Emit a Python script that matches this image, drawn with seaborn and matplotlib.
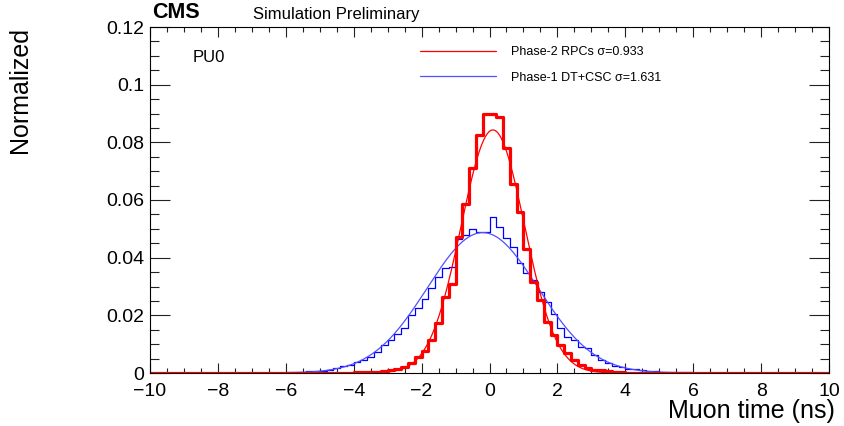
import numpy as np
import pandas as pd
import matplotlib
matplotlib.use("Agg")
import matplotlib.pyplot as plt
import seaborn as sns
from matplotlib.ticker import MultipleLocator, FixedLocator, FixedFormatter

# ---------------- data ----------------
x_min, x_max, bin_width = -10.0, 10.0, 0.2

# Phase-2 RPCs (red), 0.2 ns bins, bins centred -3.9 ... 3.9 are non-zero
rpc_core = [0.0002, 0.0003, 0.0004, 0.0005, 0.0007, 0.0010, 0.0013, 0.0022,
            0.0034, 0.0057, 0.0075, 0.0114, 0.0172, 0.0265, 0.0310, 0.0470,
            0.0585, 0.0712, 0.0826, 0.0897, 0.0897, 0.0889, 0.0780, 0.0656,
            0.0557, 0.0429, 0.0317, 0.0253, 0.0178, 0.0132, 0.0097, 0.0068,
            0.0045, 0.0028, 0.0016, 0.0010, 0.0012, 0.0008, 0.0005, 0.0003]
rpc_values = [0.0] * 30 + rpc_core + [0.0] * 30

# Phase-1 DT+CSC (blue), bins centred -5.9 ... 5.9 are non-zero
dt_core = [0.0003, 0.0004, 0.0005, 0.0006, 0.0007, 0.0008, 0.0011, 0.0016,
           0.0024, 0.0028, 0.0038, 0.0045, 0.0057, 0.0074, 0.0097, 0.0115,
           0.0135, 0.0155, 0.0201, 0.0224, 0.0258, 0.0294, 0.0334, 0.0363,
           0.0369, 0.0465, 0.0479, 0.0498, 0.0488, 0.0488, 0.0542, 0.0507,
           0.0469, 0.0438, 0.0380, 0.0348, 0.0323, 0.0282, 0.0247, 0.0205,
           0.0156, 0.0125, 0.0115, 0.0091, 0.0088, 0.0062, 0.0045, 0.0035,
           0.0026, 0.0022, 0.0015, 0.0013, 0.0009, 0.0007, 0.0006, 0.0005,
           0.0004, 0.0003, 0.0002, 0.0002]
dt_values = [0.0] * 20 + dt_core + [0.0] * 20

# Gaussian fit parameters (amplitude, mean, sigma)
rpc_fit = (0.0843, 0.10, 0.933)
dt_fit = (0.0487, -0.20, 1.631)

rpc_label = "Phase-2 RPCs \u03c3=0.933"
dt_label = "Phase-1 DT+CSC \u03c3=1.631"

x_ticks = [-10, -8, -6, -4, -2, 0, 2, 4, 6, 8, 10]
y_ticks = [0, 0.02, 0.04, 0.06, 0.08, 0.10, 0.12]
y_tick_labels = ["0", "0.02", "0.04", "0.06", "0.08", "0.1", "0.12"]

# ---------------- plot ----------------
sns.set_style("ticks")
plt.rcParams['font.family'] = ['Liberation Sans', 'DejaVu Sans']
plt.rcParams['text.color'] = 'black'
plt.rcParams['xtick.labelcolor'] = 'black'
plt.rcParams['ytick.labelcolor'] = 'black'

W, H = 844, 426
fig = plt.figure(figsize=(W / 100, H / 100), dpi=100)
ax = fig.add_axes([150 / W, 1 - 373 / H, 679 / W, 346 / H])

n_bins = len(rpc_values)
edges = np.linspace(x_min, x_max, n_bins + 1)
centers = (edges[:-1] + edges[1:]) / 2
df = pd.DataFrame({"t": centers, "rpc": rpc_values, "dt": dt_values})

sns.histplot(data=df, x="t", weights="dt", binwidth=bin_width,
             binrange=(x_min, x_max), element="step", fill=False,
             color="#0000ff", linewidth=0.9, ax=ax)

fx = np.linspace(x_min, x_max, 801)
def gauss(p):
    a, m, s = p
    return a * np.exp(-0.5 * ((fx - m) / s) ** 2)

sns.lineplot(x=fx, y=gauss(dt_fit), color="#5050ff", linewidth=0.9, ax=ax,
             label=dt_label)

sns.histplot(data=df, x="t", weights="rpc", binwidth=bin_width,
             binrange=(x_min, x_max), element="step", fill=False,
             color="#ff0000", linewidth=2.3, ax=ax)
sns.lineplot(x=fx, y=gauss(rpc_fit), color="#ff0000", linewidth=0.9, ax=ax,
             label=rpc_label)

ax.set_xlim(x_min, x_max)
ax.set_ylim(0, 0.12)
ax.set_xlabel("")
ax.set_ylabel("")

ax.xaxis.set_major_locator(FixedLocator(x_ticks))
ax.xaxis.set_minor_locator(MultipleLocator(0.5))
ax.yaxis.set_major_locator(FixedLocator(y_ticks))
ax.yaxis.set_major_formatter(FixedFormatter(y_tick_labels))
ax.yaxis.set_minor_locator(MultipleLocator(0.005))

ax.tick_params(which="both", direction="in", top=True, right=True,
               width=0.8, color="#222222", labelsize=14, labelcolor="black")
ax.tick_params(axis="x", which="major", length=7.2, pad=7)
ax.tick_params(axis="x", which="minor", length=3.6)
ax.tick_params(axis="y", which="major", length=14.4, pad=4)
ax.tick_params(axis="y", which="minor", length=6.5)
for sp in ax.spines.values():
    sp.set_visible(True)
    sp.set_linewidth(0.8)
    sp.set_color("black")

handles, labels = ax.get_legend_handles_labels()
order = [labels.index(rpc_label), labels.index(dt_label)]
leg = ax.legend([handles[i] for i in order], [labels[i] for i in order],
                frameon=False, loc="upper left",
                bbox_to_anchor=(420 / W, 1 - 46 / H),
                bbox_transform=fig.transFigure,
                fontsize=9, handlelength=6.1, handletextpad=1.2,
                labelspacing=1.1, borderpad=0, borderaxespad=0)
for t in leg.get_texts():
    t.set_color("black")

fig.text(152 / W, 1 - 13 / H, "CMS", fontsize=15.5, fontweight="bold",
         ha="left", va="center", color="black")
fig.text(253 / W, 1 - 14 / H, "Simulation Preliminary", fontsize=12,
         ha="left", va="center", color="black")
fig.text(193 / W, 1 - 58 / H, "PU0", fontsize=12, ha="left", va="center",
         color="black")
fig.text(20 / W, 1 - 27 / H, "Normalized", fontsize=18, rotation=90,
         ha="center", va="top", color="black")
fig.text(835 / W, 1 - 411 / H, "Muon time (ns)", fontsize=18,
         ha="right", va="center", color="black")

fig.savefig("out.png", dpi=100)
